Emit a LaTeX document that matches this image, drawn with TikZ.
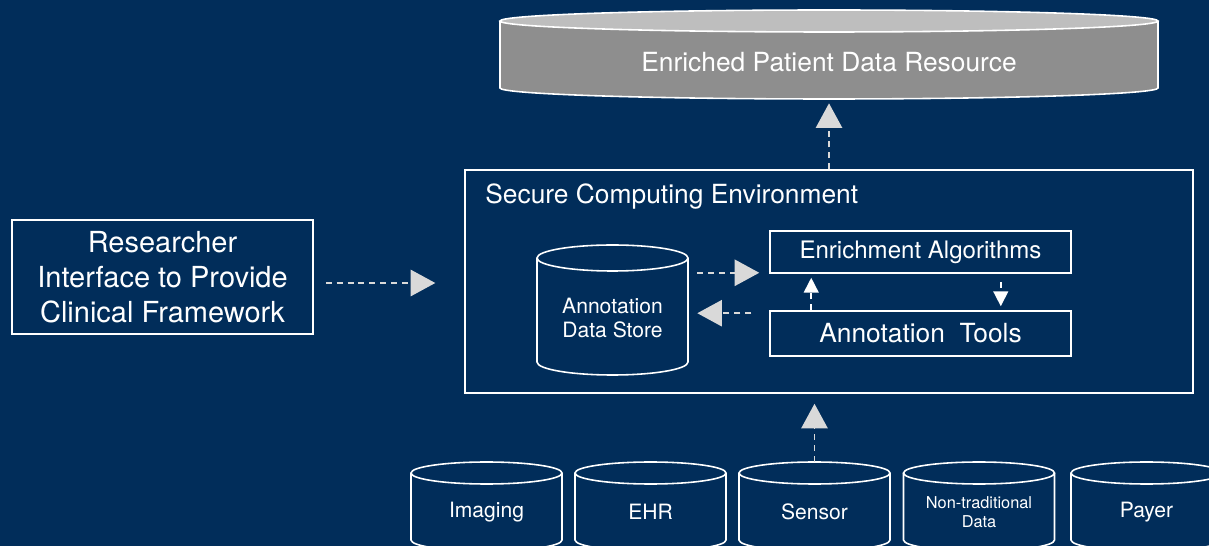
\documentclass[tikz,border=0pt]{standalone}
\usepackage{fontspec}
\setmainfont{TeX Gyre Heros}
\usetikzlibrary{arrows.meta}

\definecolor{navy}{RGB}{1,45,90}
\definecolor{tipgray}{RGB}{217,217,217}
\definecolor{bodygray}{RGB}{142,142,142}
\definecolor{lidgray}{RGB}{190,190,190}

\tikzset{
  txt/.style={text=white, inner sep=0pt, align=center},
  box/.style={txt, draw=white, line width=0.9pt},
  drum/.style={draw=white, line width=0.9pt},
  bigflow/.style={draw=tipgray, line width=0.9pt, dash pattern=on 3.4pt off 2.8pt,
    -{Triangle[length=14pt,width=15pt]}},
  smallflow/.style={draw=white, line width=0.9pt, dash pattern=on 3.4pt off 2.8pt,
    -{Triangle[length=8.5pt,width=8.5pt]}},
  src/.style={txt, font=\fontsize{12}{14}\selectfont},
  srcsmall/.style={txt, font=\fontsize{9.3}{10.5}\selectfont}
}

% cylinder outline: cx, top y, bottom y, rx, ry
\newcommand{\drum}[5]{%
  \draw[drum] (#1-#4,#2) -- (#1-#4,#3) arc(180:0:#4 and #5) -- (#1+#4,#2);
  \draw[drum] (#1,#2) ellipse (#4 and #5);}

\begin{document}
\begin{tikzpicture}[x=0.02cm,y=-0.02cm]

  \fill[navy] (0,0) rectangle (1209,546);
  \clip (0,0) rectangle (1209,546);

  \fill[bodygray] (500,21) -- (500,88) arc(180:0:329 and 11) -- (1158,21) -- cycle;
  \draw[drum] (500,21) -- (500,88) arc(180:0:329 and 11) -- (1158,21);
  \draw[drum,fill=lidgray] (829,21) ellipse (329 and 11);
  \node[txt, minimum width=13.16cm, minimum height=1.48cm,
    font=\fontsize{15}{18}\selectfont] (epdr) at (829,62) {Enriched Patient Data Resource};

  \node[box, minimum width=14.56cm, minimum height=4.46cm] (sce) at (829,281.5) {};
  \node[txt, anchor=west, font=\fontsize{15}{18}\selectfont] (scetitle) at (485,197)
    {Secure Computing Environment};

  \node[box, minimum width=6.02cm, minimum height=2.28cm,
    font=\fontsize{16.5}{19.8}\selectfont] (rif) at (162.5,277)
    {Researcher\\Interface to Provide\\Clinical Framework};

  \drum{612.5}{258}{362}{75.5}{13}
  \node[txt, minimum width=3.02cm, minimum height=2.6cm,
    font=\fontsize{12}{13.6}\selectfont] (ads) at (612.5,318) {Annotation\\Data Store};

  \node[box, minimum width=6.02cm, minimum height=0.84cm,
    font=\fontsize{13.7}{16}\selectfont] (ea) at (920.5,252) {Enrichment Algorithms};
  \node[box, minimum width=6.02cm, minimum height=0.9cm,
    font=\fontsize{15}{18}\selectfont] (at) at (920.5,333.5) {Annotation\ \ Tools};

  \foreach \cx/\nm/\txt/\sty in {486.5/imaging/Imaging/src, 650.5/ehr/EHR/src,
      814.5/sensor/Sensor/src, 979/nontrad/{Non-traditional\\Data}/srcsmall,
      1146.5/payer/Payer/src}{
    \drum{\cx}{473}{540}{75.5}{11}
    \node[\sty, minimum width=3.02cm, minimum height=2cm] (\nm) at (\cx,512) {\txt};
  }

  \draw[bigflow, shorten <=0.24cm, shorten >=0.58cm]
    ([yshift=-0.12cm]rif.east) -- ([yshift=-0.12cm]rif.east -| sce.west);
  \draw[bigflow, shorten >=0.08cm] (sce.north) -- (epdr.south);
  \draw[bigflow, shorten >=0.2cm] (sensor.north) -- (sensor.north |- sce.south);
  \draw[bigflow, shorten <=0.18cm, shorten >=0.2cm]
    ([yshift=0.02cm]ads.east |- ea.south) -- ([yshift=0.02cm]ea.south west);
  \draw[bigflow, shorten <=0.36cm, shorten >=0.18cm]
    ([yshift=-0.06cm]at.north west) -- ([yshift=-0.06cm]at.north west -| ads.east);
  \draw[smallflow, shorten >=0.08cm]
    ([xshift=0.84cm]at.north west) -- ([xshift=0.84cm]ea.south west);
  \draw[smallflow, shorten <=0.16cm, shorten >=0.08cm]
    ([xshift=-1.42cm]ea.south east) -- ([xshift=-1.42cm]at.north east);

\end{tikzpicture}
\end{document}
